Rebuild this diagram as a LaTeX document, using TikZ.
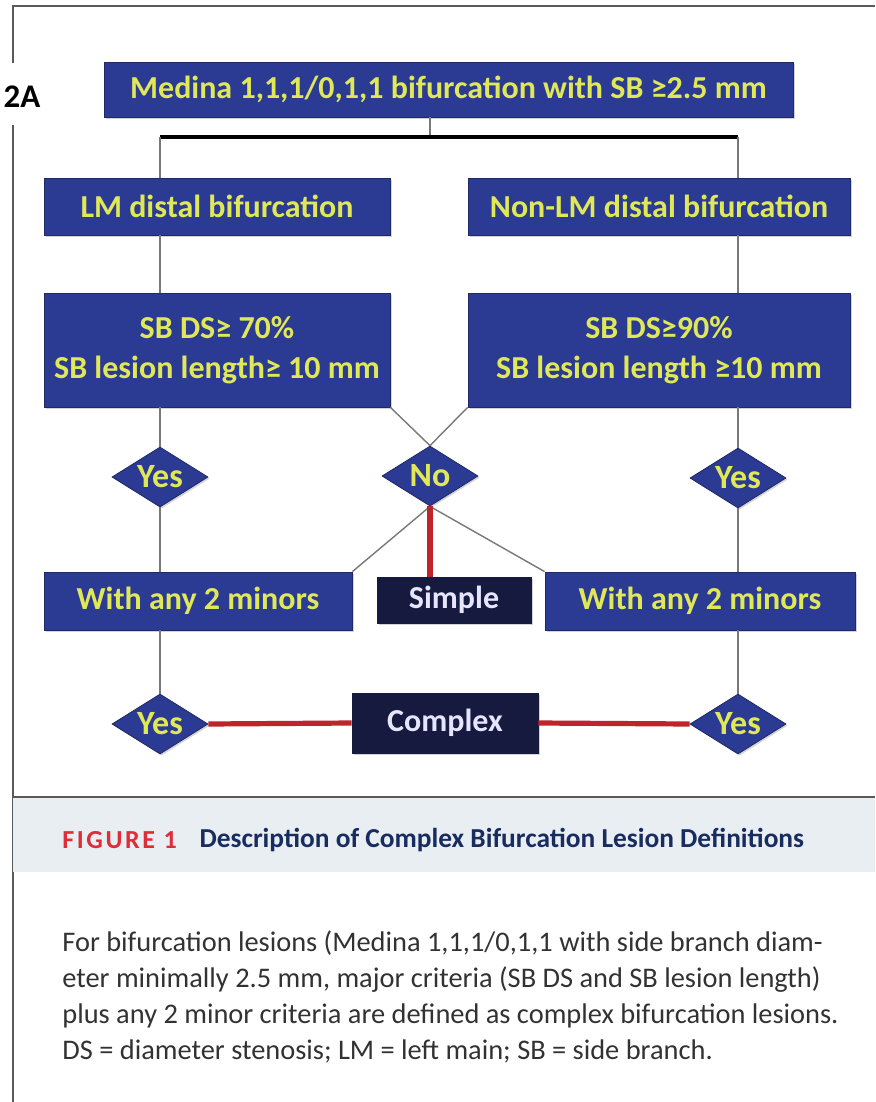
\documentclass[tikz,border=0pt]{standalone}
\usepackage{fontspec}
\setmainfont{Carlito}
\usetikzlibrary{positioning,shapes.geometric,shadows}
\definecolor{boxblue}{RGB}{43,58,146}
\definecolor{boxtext}{RGB}{224,232,88}
\definecolor{navy}{RGB}{22,26,62}
\definecolor{linkred}{RGB}{192,36,42}
\definecolor{linkgray}{RGB}{120,120,120}
\definecolor{bandgray}{RGB}{232,238,241}
\definecolor{figred}{RGB}{222,44,56}
\definecolor{titlenavy}{RGB}{24,44,96}
\definecolor{bodygray}{RGB}{50,50,50}
\tikzset{
  block/.style={draw=boxblue!70!black, fill=boxblue, text=boxtext, align=center,
    inner sep=2pt, font=\bfseries\fontsize{16}{20}\selectfont,
    drop shadow={shadow xshift=0.8pt, shadow yshift=-0.8pt, opacity=0.35}},
  endblock/.style={block, fill=navy, draw=navy, text=white!90!blue},
  choice/.style={block, diamond, aspect=1.6, inner sep=0pt,
    minimum width=48pt, minimum height=30pt, font=\bfseries\fontsize{17}{20}\selectfont},
  link/.style={draw=linkgray, line width=0.7pt},
  redlink/.style={draw=linkred, line width=2.6pt},
  bar/.style={draw=black, line width=2pt},
  frame/.style={draw=black!65, line width=1.4pt}
}
\begin{document}
\begin{tikzpicture}[x=0.5pt, y=-0.5pt]
  \useasboundingbox (0,0) rectangle (875,1102);
  % outer frame and panel tag
  \draw[frame] (13,1102) -- (13,125);
  \draw[frame] (13,63) -- (13,6) -- (875,6);
  \node[font=\bfseries\fontsize{16.5}{18}\selectfont] (tag) at (22,97) {2A};

  \coordinate (lcol) at (160,0);
  \coordinate (rcol) at (738,0);
  \coordinate (split) at (430,137);

  \node[block, minimum width=344.5pt, minimum height=27.5pt] (medina) at (448.5,89.5)
    {Medina 1,1,1/0,1,1 bifurcation with SB ≥2.5 mm};
  \node[block, minimum width=173pt, minimum height=28.5pt] (lm) at (217,206.5)
    {LM distal bifurcation};
  \node[block, minimum width=191pt, minimum height=28.5pt] (nonlm) at (659,206.5)
    {Non-LM distal bifurcation};
  \node[block, minimum width=173pt, minimum height=57pt] (lmcrit) at (217,350)
    {SB DS≥ 70\%\\SB lesion length≥ 10 mm};
  \node[block, minimum width=191pt, minimum height=57pt] (nonlmcrit) at (659,350)
    {SB DS≥90\%\\SB lesion length ≥10 mm};

  \node[choice] (lmyes) at (160,477) {Yes};
  \node[choice] (no) at (430,476) {No};
  \node[choice] (nonlmyes) at (738,478) {Yes};

  \node[block, minimum width=154pt, minimum height=29pt] (lmminor) at (198,601)
    {With any 2 minors};
  \node[endblock, minimum width=77pt, minimum height=23pt] (simple) at (454,600) {Simple};
  \node[block, minimum width=155pt, minimum height=29pt] (nonlmminor) at (700,601)
    {With any 2 minors};

  \node[choice] (lmyes2) at (160,724) {Yes};
  \node[choice] (nonlmyes2) at (738,724) {Yes};
  \node[endblock, minimum width=93pt, minimum height=30pt] (complex) at (445,723) {Complex};

  % connectors
  \draw[link] (medina.south -| split) -- (split);
  \draw[bar] (lcol |- split) -- (rcol |- split);
  \draw[link] (lcol |- split) -- (lcol |- lm.north);
  \draw[link] (rcol |- split) -- (rcol |- nonlm.north);
  \draw[link] (lcol |- lm.south) -- (lcol |- lmcrit.north);
  \draw[link] (rcol |- nonlm.south) -- (rcol |- nonlmcrit.north);
  \draw[link] (lcol |- lmcrit.south) -- (lmyes.north);
  \draw[link] (rcol |- nonlmcrit.south) -- (nonlmyes.north);
  \draw[link] (lmcrit.south east) -- (no.north);
  \draw[link] (nonlmcrit.south west) -- (no.north);
  \draw[link] (no.south) -- (lmminor.north east);
  \draw[link] (no.south) -- (nonlmminor.north west);
  \draw[redlink] (no.south) -- (no.south |- simple.north);
  \draw[link] (lmyes.south) -- (lcol |- lmminor.north);
  \draw[link] (nonlmyes.south) -- (rcol |- nonlmminor.north);
  \draw[link] (lcol |- lmminor.south) -- (lmyes2.north);
  \draw[link] (rcol |- nonlmminor.south) -- (nonlmyes2.north);
  \draw[redlink] (lmyes2.east) -- (complex.west);
  \draw[redlink] (complex.east) -- (nonlmyes2.west);

  % caption
  \fill[bandgray] (13,797) rectangle (875,872);
  \draw[frame, line width=1pt] (13,797) -- (875,797);
  \node[anchor=west, inner sep=0pt, text=figred,
    font=\bfseries\fontsize{13}{15}\selectfont\addfontfeatures{LetterSpace=10}] (figlabel) at (62,840)
    {FIGURE 1};
  \node[anchor=west, inner sep=0pt, text=titlenavy, right=11pt of figlabel,
    font=\bfseries\fontsize{13.7}{16}\selectfont] (figtitle)
    {Description of Complex Bifurcation Lesion Definitions};
  \node[anchor=north west, align=left, inner sep=0pt, text=bodygray,
    font=\fontsize{14.2}{18}\selectfont] (legend) at (62,930)
    {For bifurcation lesions (Medina 1,1,1/0,1,1 with side branch diam-\\
     eter minimally 2.5 mm, major criteria (SB DS and SB lesion length)\\
     plus any 2 minor criteria are defined as complex bifurcation lesions.\\
     DS = diameter stenosis; LM = left main; SB = side branch.};
\end{tikzpicture}
\end{document}
